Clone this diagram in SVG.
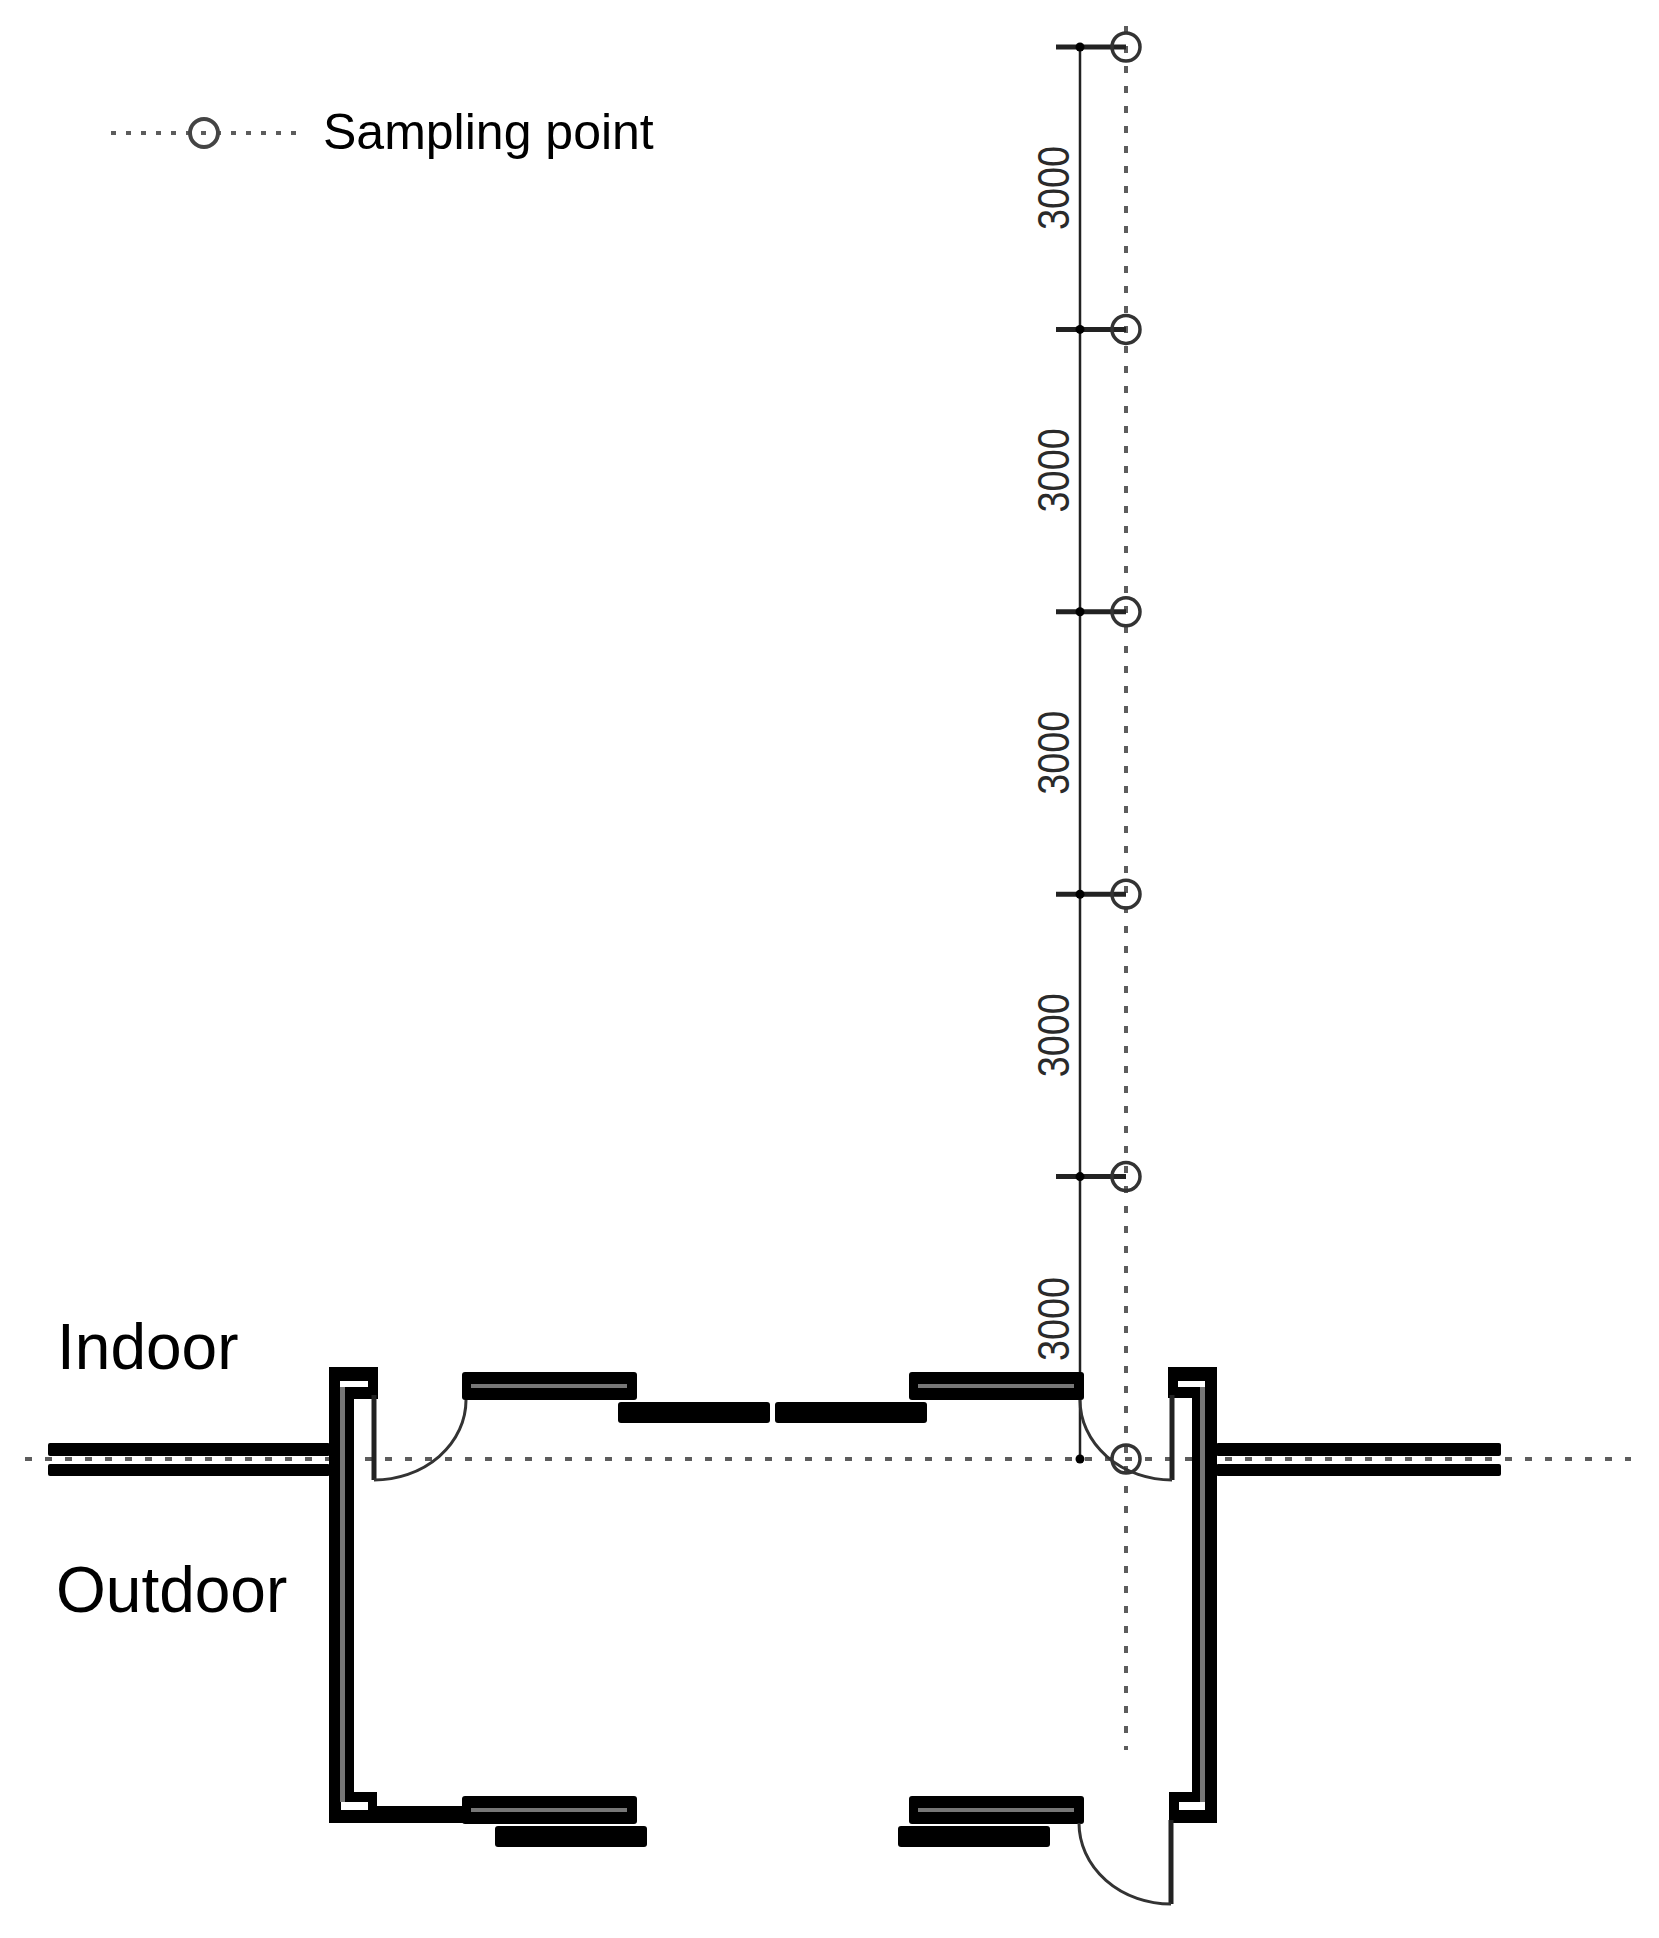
<svg xmlns="http://www.w3.org/2000/svg" width="1659" height="1938" viewBox="0 0 1659 1938">
<style>
.t{font-family:"Liberation Sans",Arial,sans-serif;fill:#000}
.d{font-family:"Liberation Sans",Arial,sans-serif;fill:#2a2a2a;font-size:45px}
.k{fill:#000}
.g{fill:#777}
.w{fill:#fff}
.dot{fill:none;stroke:#5c5c5c;stroke-width:4}
.dh{stroke-dasharray:7 13}
.dv{stroke-dasharray:7 13}
.dl{stroke-dasharray:5 10}
.c{fill:none;stroke:#333;stroke-width:3.5}
.dim{fill:none;stroke:#222;stroke-width:2.5}
.tick{fill:none;stroke:#222;stroke-width:5}
.door{fill:none;stroke:#333;stroke-width:3}
.jamb{fill:none;stroke:#222;stroke-width:5}
</style>
<defs>
<g id="window"><rect class="k" x="0" y="0" width="175" height="28" rx="3"/><rect class="g" x="9" y="12" width="156" height="4"/></g>
<g id="panel"><rect class="k" x="0" y="0" width="152" height="21" rx="3"/></g>
<g id="tickmark"><path class="tick" d="M1056 0H1126"/><circle class="k" cx="1080" cy="0" r="4.5"/><circle class="c" cx="1126" cy="0" r="14"/></g>
</defs>
<rect width="1659" height="1938" fill="#fff"/>
<g id="connectors">
<path class="dot dh" d="M25 1459H1631"/>
<path class="dot dv" d="M1126 26V1750"/>
<path class="dim" d="M1080 47V1459"/>
</g>
<g id="legend">
<path class="dot dl" d="M111 133H304"/>
<circle cx="204" cy="133" r="14" fill="none" stroke="#444" stroke-width="4"/>
<text class="t" x="323" y="149" font-size="50">Sampling point</text>
</g>
<g id="sampling-points">
<use href="#tickmark" y="47"/>
<use href="#tickmark" y="329.4"/>
<use href="#tickmark" y="611.8"/>
<use href="#tickmark" y="894.2"/>
<use href="#tickmark" y="1176.6"/>
<g id="ground-point"><circle class="k" cx="1080" cy="1459" r="4.5"/><circle class="c" cx="1126" cy="1459" r="14"/></g>
</g>
<g id="dimensions">
<text class="d" transform="translate(1069,230) rotate(-90) scale(.84,1)">3000</text>
<text class="d" transform="translate(1069,512.4) rotate(-90) scale(.84,1)">3000</text>
<text class="d" transform="translate(1069,794.8) rotate(-90) scale(.84,1)">3000</text>
<text class="d" transform="translate(1069,1077.2) rotate(-90) scale(.84,1)">3000</text>
<text class="d" transform="translate(1069,1361) rotate(-90) scale(.84,1)">3000</text>
</g>
<g id="outer-walls">
<rect class="k" x="48" y="1443" width="282" height="13" rx="2"/>
<rect class="k" x="48" y="1464" width="282" height="12" rx="2"/>
<rect class="k" x="1216" y="1443" width="285" height="13" rx="2"/>
<rect class="k" x="1216" y="1464" width="285" height="12" rx="2"/>
</g>
<g id="left-wall">
<path class="k" d="M329 1367H378V1399H354V1792H377V1806H466V1823H329Z"/>
<rect class="w" x="340" y="1381" width="28" height="6"/>
<rect class="g" x="340" y="1387" width="5" height="415"/>
<rect class="w" x="341" y="1802" width="27" height="8"/>
</g>
<g id="right-wall">
<path class="k" d="M1168 1367H1217V1823H1169V1792H1192V1398H1168Z"/>
<rect class="w" x="1178" y="1381" width="27" height="6"/>
<rect class="g" x="1200" y="1387" width="5" height="415"/>
<rect class="w" x="1179" y="1802" width="26" height="8"/>
</g>
<g id="windows">
<use href="#window" x="462" y="1372"/>
<use href="#window" x="909" y="1372"/>
<use href="#window" x="462" y="1796"/>
<use href="#window" x="909" y="1796"/>
<use href="#panel" x="618" y="1402"/>
<use href="#panel" x="775" y="1402"/>
<use href="#panel" x="495" y="1826"/>
<use href="#panel" x="898" y="1826"/>
</g>
<g id="doors">
<path class="jamb" d="M374 1395V1480"/>
<path class="door" d="M374 1480A92 80 0 0 0 466 1400"/>
<path class="jamb" d="M1172 1395V1480"/>
<path class="door" d="M1172 1480A92 80 0 0 1 1080 1400"/>
<path class="jamb" d="M1171 1820V1904"/>
<path class="door" d="M1171 1904A92 81 0 0 1 1079 1823"/>
</g>
<g id="zones">
<text class="t" x="57" y="1369" font-size="64">Indoor</text>
<text class="t" x="56" y="1612" font-size="64">Outdoor</text>
</g>
</svg>
